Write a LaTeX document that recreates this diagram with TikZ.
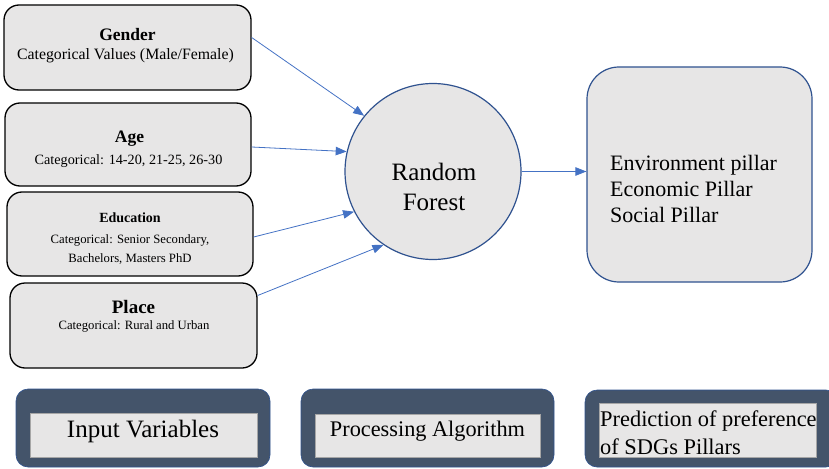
\documentclass[tikz,border=0pt]{standalone}
\usepackage{fontspec}
\setmainfont{Liberation Serif}
\usetikzlibrary{arrows.meta}
\definecolor{boxfill}{HTML}{E7E6E6}
\definecolor{arrowblue}{HTML}{4472C4}
\definecolor{darkblue}{HTML}{2F528F}
\definecolor{slate}{HTML}{44546A}
\definecolor{innerline}{HTML}{A6A6A6}
\begin{document}
\begin{tikzpicture}[x=1pt,y=-1pt,
  inbox/.style={draw=black, line width=1.3pt, fill=boxfill, rounded corners=15pt, inner sep=0pt},
  procnode/.style={circle, draw=darkblue, line width=1.2pt, fill=boxfill, minimum size=176pt, inner sep=0pt},
  outbox/.style={draw=darkblue, line width=1.2pt, fill=boxfill, rounded corners=32pt, inner sep=0pt, minimum width=225pt, minimum height=215pt},
  legouter/.style={draw=darkblue, line width=0.6pt, fill=slate, rounded corners=12pt, inner sep=0pt, minimum height=78pt},
  leginner/.style={draw=innerline, line width=0.5pt, fill=boxfill, inner sep=0pt},
  txt/.style={anchor=base, inner sep=0pt},
  txtl/.style={anchor=base west, inner sep=0pt},
  arr/.style={draw=arrowblue, line width=0.8pt, -{Triangle[length=11pt,width=8.5pt]}}
]
\useasboundingbox (0,0) rectangle (829,468);

% input boxes
\node[inbox, minimum width=247pt, minimum height=85pt] (gender) at (127.5,47.5) {};
\node[inbox, minimum width=246pt, minimum height=83pt] (age) at (128,144.5) {};
\node[inbox, minimum width=246pt, minimum height=84pt] (edu) at (130,234) {};
\node[inbox, minimum width=247pt, minimum height=85pt] (place) at (133.5,325.5) {};

\node[txt, font=\fontsize{17.5}{21}\selectfont\bfseries] (gendert) at (127.5,41) {Gender};
\node[txt, font=\fontsize{15.8}{19}\selectfont] (genders) at (125.5,59.5) {Categorical Values (Male/Female)};
\node[txt, font=\fontsize{17.5}{21}\selectfont\bfseries] (aget) at (129.5,142.5) {Age};
\node[txt, font=\fontsize{14.2}{17}\selectfont] (ages) at (128.5,164.5) {Categorical: 14-20, 21-25, 26-30};
\node[txt, font=\fontsize{14}{17}\selectfont\bfseries] (edut) at (130,222.3) {Education};
\node[txt, font=\fontsize{12.7}{15}\selectfont] (edus1) at (130,243.3) {Categorical: Senior Secondary,};
\node[txt, font=\fontsize{12.7}{15}\selectfont] (edus2) at (130,262.5) {Bachelors, Masters PhD};
\node[txt, font=\fontsize{19}{23}\selectfont\bfseries] (placet) at (133.5,313.3) {Place};
\node[txt, font=\fontsize{12.7}{15}\selectfont] (places) at (134,329) {Categorical: Rural and Urban};

% processing
\node[procnode] (rf) at (433,171.5) {};
\node[txt, font=\fontsize{25}{30}\selectfont] (rf1) at (434,180) {Random};
\node[txt, font=\fontsize{25}{30}\selectfont] (rf2) at (434,210) {Forest};

% output
\node[outbox] (out) at (699.5,174.5) {};
\node[txtl, font=\fontsize{22}{26}\selectfont] (o1) at (610,170) {Environment pillar};
\node[txtl, font=\fontsize{22}{26}\selectfont] (o2) at (610,196) {Economic Pillar};
\node[txtl, font=\fontsize{22}{26}\selectfont] (o3) at (610,222) {Social Pillar};

% connectors
\draw[arr] ([yshift=10pt]gender.east) -- (rf.141);
\draw[arr] ([yshift=-2.5pt]age.east) -- (rf.167);
\draw[arr] ([yshift=-3pt]edu.east) -- (rf.207);
\draw[arr] ([yshift=30pt]place.east) -- (rf.236);
\draw[arr] (rf.east) -- (rf.east -| out.west);

% legend boxes
\node[legouter, minimum width=254pt] (l1) at (143,428) {};
\node[leginner, minimum width=227pt, minimum height=44pt] (l1i) at (143.5,435) {};
\node[txt, font=\fontsize{25}{30}\selectfont] (l1t) at (143,437) {Input Variables};

\node[legouter, minimum width=253pt] (l2) at (427.5,428) {};
\node[leginner, minimum width=225pt, minimum height=43pt] (l2i) at (427.5,435.5) {};
\node[txt, font=\fontsize{22.3}{27}\selectfont] (l2t) at (427.5,436.7) {Processing Algorithm};

\node[legouter, minimum width=253pt, minimum height=77pt] (l3) at (711.5,428.5) {};
\node[leginner, minimum width=217pt, minimum height=54pt] (l3i) at (707.5,430) {};
\node[txtl, font=\fontsize{22.4}{28}\selectfont] (l3t1) at (600,426.7) {Prediction of preference};
\node[txtl, font=\fontsize{22.4}{28}\selectfont] (l3t2) at (600,454.5) {of SDGs Pillars};
\end{tikzpicture}
\end{document}
